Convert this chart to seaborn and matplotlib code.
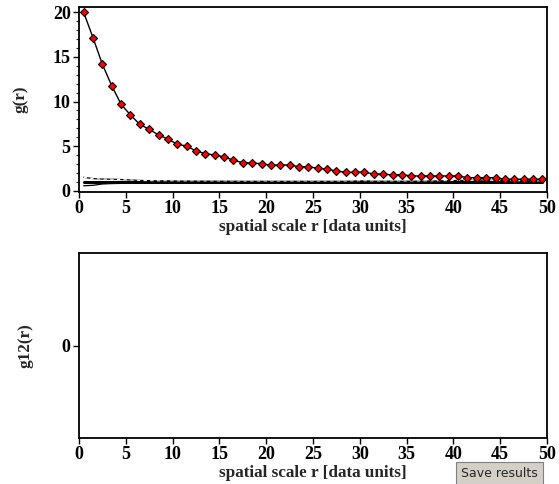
import numpy as np
import pandas as pd
import matplotlib
matplotlib.use("Agg")
import matplotlib.pyplot as plt
from matplotlib.ticker import MultipleLocator
import seaborn as sns

# pair-correlation estimate g(r)
r = [i + 0.5 for i in range(50)]
g_obs = [20.0, 17.15, 14.17, 11.77, 9.68, 8.49, 7.44, 6.88, 6.24, 5.80,
         5.20, 5.01, 4.45, 4.15, 4.00, 3.78, 3.41, 3.14, 3.10, 3.03,
         2.85, 2.88, 2.88, 2.69, 2.69, 2.51, 2.40, 2.21, 2.06, 2.06,
         2.06, 1.87, 1.87, 1.76, 1.80, 1.65, 1.65, 1.65, 1.65, 1.65,
         1.65, 1.46, 1.46, 1.46, 1.46, 1.28, 1.28, 1.28, 1.28, 1.28]
g_theory = [1.0] * 50
env_upper = [1.50, 1.35, 1.30, 1.28, 1.25, 1.20, 1.15, 1.12, 1.10, 1.10,
             1.08, 1.08, 1.07, 1.07, 1.06, 1.06, 1.06, 1.05, 1.05, 1.05,
             1.05, 1.05, 1.05, 1.05, 1.05, 1.05, 1.05, 1.05, 1.05, 1.08,
             1.10, 1.06, 1.06, 1.06, 1.06, 1.06, 1.06, 1.08, 1.10, 1.12,
             1.15, 1.15, 1.18, 1.18, 1.15, 1.12, 1.12, 1.10, 1.10, 1.10]
env_lower = [0.55, 0.60, 0.75, 0.80, 0.82, 0.84, 0.88, 0.90, 0.92, 0.93,
             0.94, 0.94, 0.95, 0.95, 0.95, 0.95, 0.95, 0.95, 0.95, 0.95,
             0.95, 0.95, 0.95, 0.95, 0.95, 0.95, 0.95, 0.95, 0.95, 0.95,
             0.95, 0.95, 0.95, 0.95, 0.95, 0.95, 0.95, 0.95, 0.95, 0.95,
             0.92, 0.92, 0.92, 0.92, 0.92, 0.92, 0.92, 0.92, 0.92, 0.92]
x_ticks = [0, 5, 10, 15, 20, 25, 30, 35, 40, 45, 50]

sns.set_style("ticks")
plt.rcParams['font.family'] = ['Liberation Serif', 'DejaVu Serif']
plt.rcParams['font.weight'] = 'bold'
plt.rcParams['axes.labelweight'] = 'bold'

fig = plt.figure(figsize=(5.59, 4.84), dpi=100)
ax1 = fig.add_axes([0.1413, 0.6033, 0.8372, 0.3822])
ax2 = fig.add_axes([0.1413, 0.0950, 0.8372, 0.3822])

df = pd.DataFrame({'r': r, 'g': g_obs, 'theory': g_theory,
                   'upper': env_upper, 'lower': env_lower})

# theoretical value and simulation envelopes
sns.lineplot(data=df, x='r', y='theory', color='black', lw=2.2, ax=ax1)
sns.lineplot(data=df, x='r', y='upper', color='black', lw=0.9, ax=ax1)
sns.lineplot(data=df, x='r', y='upper', color='white', lw=0.8,
             dashes=(3, 3), ax=ax1)
sns.lineplot(data=df, x='r', y='lower', color='black', lw=0.9, ax=ax1)

# observed g(r)
sns.lineplot(data=df, x='r', y='g', color='black', lw=1.0, marker='D',
             markersize=4.3, markerfacecolor='red', markeredgecolor='black',
             markeredgewidth=0.8, ax=ax1)

for ax in (ax1, ax2):
    ax.set_xlim(0, 50)
    ax.set_xticks(x_ticks)
    ax.set_xlabel("spatial scale r [data units]", fontsize=12.3, labelpad=1)
    ax.tick_params(direction='out', length=4, width=1, labelsize=13,
                   colors='black', pad=2)
    for s in ax.spines.values():
        s.set_visible(True)
        s.set_color('black')
        s.set_linewidth(1.3)

ax1.set_ylim(-0.15, 20.6)
ax1.set_yticks([0, 5, 10, 15, 20])
ax1.yaxis.set_minor_locator(MultipleLocator(1))
ax1.tick_params(axis='y', which='minor', direction='out', length=2, width=0.8)
ax1.set_ylabel("g(r)", fontsize=12.3)
ax1.yaxis.set_label_coords(-0.107, 0.5)

ax2.set_ylim(-1, 1)
ax2.set_yticks([0])
ax2.set_ylabel("g12(r)", fontsize=12.3)
ax2.yaxis.set_label_coords(-0.098, 0.5)

fig.text(0.894, 0.0227, "Save results", family='DejaVu Sans', weight='normal',
         fontsize=9, ha='center', va='center',
         bbox=dict(boxstyle='square,pad=0.4', facecolor='#d4d0c8',
                   edgecolor='#808080', lw=0.8))

fig.savefig("out.png", dpi=100)
